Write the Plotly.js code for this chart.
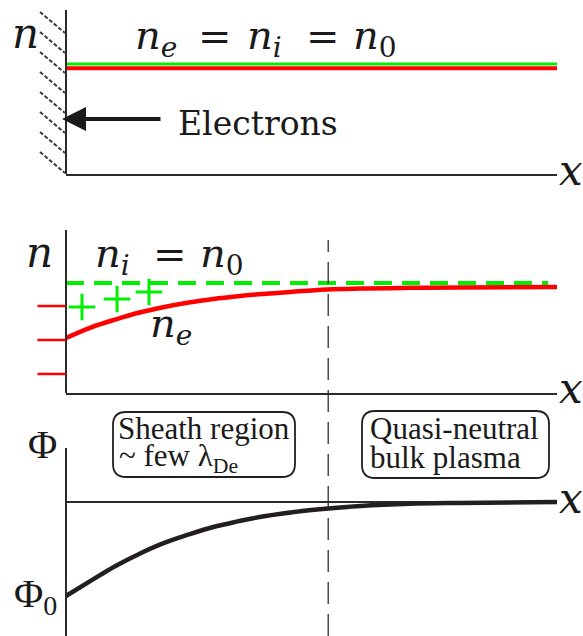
<!DOCTYPE html>
<html>
<head>
<meta charset="utf-8">
<script src="https://cdn.plot.ly/plotly-3.0.1.min.js"></script>
<style>html,body{margin:0;padding:0;background:#fff;}#plot{width:583px;height:636px;}</style>
</head>
<body>
<div id="plot"></div>
<script>
// ---------------- data ----------------
// panel 1: uniform plasma (n / n0 versus x)
const xUniform = [0, 10];
const niUniform = [1.0, 1.0];
const neUniform = [0.962, 0.962];

// panel 2: sheath densities
const xGrid = [0, 0.5, 1, 1.5, 2, 2.5, 3, 3.5, 4, 5, 6, 7, 8, 10];
const neSheath = [0.500, 0.595, 0.668, 0.732, 0.782, 0.823, 0.855, 0.880, 0.900, 0.933, 0.949, 0.956, 0.960, 0.964];
const xIon = [0, 9.82];
const niSheath = [1.0, 1.0];
const plusX = [0.326, 1.04, 1.69];
const plusY = [0.782, 0.855, 0.918];
const minusX = [0.78, 0.78, 0.78];
const minusY = [0.791, 0.482, 0.173];

// panel 3: potential
const phi = [-1.0, -0.840, -0.683, -0.550, -0.436, -0.346, -0.266, -0.207, -0.155, -0.086, -0.043, -0.019, -0.010, 0.0];
const sheathEdge = 5.34;

// ---------------- helpers ----------------
const W = 583, H = 636;
const px = v => v / W;
const py = v => 1 - v / H;
const SERIF = 'DejaVu Serif';
const TIMES = 'Liberation Serif';
const RED = '#ff0000', GREEN = '#00ee00', INK = '#231f20', AX = '#2b2b2b';

const xdom = [px(66), px(557)];
function xa(anchor, line) {
  return {domain: xdom, range: [0, 10], anchor: anchor, showline: line, linecolor: AX, linewidth: 2,
          showgrid: false, zeroline: false, showticklabels: false, ticks: ''};
}
function ya(dom, range, zl) {
  return {domain: dom, range: range, anchor: 'free', position: px(66), showline: true, linecolor: AX, linewidth: 2,
          showgrid: false, zeroline: !!zl, zerolinecolor: AX, zerolinewidth: 1.6,
          showticklabels: false, ticks: ''};
}

const traces = [
  {x: xUniform, y: niUniform, xaxis: 'x', yaxis: 'y', mode: 'lines', line: {color: GREEN, width: 3}},
  {x: xUniform, y: neUniform, xaxis: 'x', yaxis: 'y', mode: 'lines', line: {color: RED, width: 4}},
  {x: xIon, y: niSheath, xaxis: 'x2', yaxis: 'y2', mode: 'lines', line: {color: GREEN, width: 4, dash: '18px,10px'}},
  {x: xGrid, y: neSheath, xaxis: 'x2', yaxis: 'y2', mode: 'lines', line: {color: RED, width: 4.5, shape: 'spline'}},
  {x: plusX, y: plusY, xaxis: 'x2', yaxis: 'y2', mode: 'markers', cliponaxis: false,
   marker: {symbol: 'cross-thin', size: 19, color: GREEN, line: {color: GREEN, width: 3}}},
  {x: minusX, y: minusY, xaxis: 'x4', yaxis: 'y2', mode: 'markers', cliponaxis: false,
   marker: {symbol: 'line-ew', size: 20, color: RED, line: {color: RED, width: 2.5}}},
  {x: xGrid, y: phi, xaxis: 'x3', yaxis: 'y3', mode: 'lines', line: {color: INK, width: 4.5, shape: 'spline'}}
];

function ann(text, x, y, size, opts, fam) {
  return Object.assign({text: text, x: px(x), y: py(y), xref: 'paper', yref: 'paper', showarrow: false,
    xanchor: 'left', yanchor: 'middle', font: {family: fam || SERIF, size: size, color: '#1a1a1a'}}, opts || {});
}
const I = s => '<i>' + s + '</i>';

const annotations = [
  ann(I('n'), 25, 34, 42, {xanchor: 'center'}),
  ann(I('n') + '<sub>' + I('e') + '</sub>', 133, 38, 40),
  ann('=', 196, 36, 40),
  ann(I('n') + '<sub>' + I('i') + '</sub>', 245, 38, 40),
  ann('=', 304, 36, 40),
  ann(I('n') + '<sub>0</sub>', 351, 38, 40),
  ann('Electrons', 176, 124, 33),
  ann(I('x'), 571, 170, 42, {xanchor: 'center'}),
  ann(I('n'), 39, 252, 42, {xanchor: 'center'}),
  ann(I('n') + '<sub>' + I('i') + '</sub>', 93, 256, 40),
  ann('=', 151, 254, 40),
  ann(I('n') + '<sub>0</sub>', 198, 256, 40),
  ann(I('n') + '<sub>' + I('e') + '</sub>', 148, 326, 40),
  ann(I('x'), 571, 388, 42, {xanchor: 'center'}),
  ann('Φ', 42, 444, 40, {xanchor: 'center'}, TIMES),
  ann('Φ<sub>0</sub>', 12, 596, 40, {}, TIMES),
  ann(I('x'), 571, 498, 42, {xanchor: 'center'}),
  ann('Sheath region', 204, 428, 31, {xanchor: 'center'}, TIMES),
  ann('~ few λ<sub>De</sub>', 117, 458, 31, {}, TIMES),
  ann('Quasi-neutral', 455, 428, 31, {xanchor: 'center'}, TIMES),
  ann('bulk plasma', 368, 458, 31, {}, TIMES),
  {x: px(62), y: py(119), xref: 'paper', yref: 'paper', text: '', showarrow: true,
   ax: 100, ay: 0, axref: 'pixel', ayref: 'pixel', arrowhead: 2, arrowsize: 1.2, arrowwidth: 4, arrowcolor: '#1a1a1a', standoff: 0}
];

function roundBox(x0, y0, x1, y1, r) {
  const rx = r / W, ry = r / H;
  const X0 = px(x0), X1 = px(x1), Y0 = py(y0), Y1 = py(y1); // Y0 top, Y1 bottom
  return {type: 'path', xref: 'paper', yref: 'paper', line: {color: INK, width: 1.8},
    path: 'M ' + (X0 + rx) + ',' + Y0 + ' L ' + (X1 - rx) + ',' + Y0 + ' Q ' + X1 + ',' + Y0 + ' ' + X1 + ',' + (Y0 - ry) +
          ' L ' + X1 + ',' + (Y1 + ry) + ' Q ' + X1 + ',' + Y1 + ' ' + (X1 - rx) + ',' + Y1 +
          ' L ' + (X0 + rx) + ',' + Y1 + ' Q ' + X0 + ',' + Y1 + ' ' + X0 + ',' + (Y1 + ry) +
          ' L ' + X0 + ',' + (Y0 - ry) + ' Q ' + X0 + ',' + Y0 + ' ' + (X0 + rx) + ',' + Y0 + ' Z'};
}

const shapes = [
  {type: 'line', xref: 'x2', yref: 'paper', x0: sheathEdge, x1: sheathEdge, y0: 0, y1: py(240),
   line: {color: INK, width: 1.2, dash: '22px,10px'}},
  roundBox(113, 412, 295, 477, 13),
  roundBox(362, 411, 549, 478, 13)
];
for (let i = 0; i < 8; i++) {
  const t = 12 + i * 20;
  shapes.push({type: 'line', xref: 'paper', yref: 'paper', x0: px(40), y0: py(t), x1: px(65), y1: py(t + 21),
    line: {color: '#3a3a3a', width: 2, dash: '4px,2px'}});
}

const layout = {
  width: W, height: H, margin: {l: 0, r: 0, t: 0, b: 0}, showlegend: false,
  font: {family: SERIF},
  paper_bgcolor: '#fff', plot_bgcolor: 'rgba(0,0,0,0)',
  xaxis: xa('y', true), xaxis2: xa('y2', true), xaxis3: xa('y3', false),
  xaxis4: {domain: [0, px(66)], range: [0, 1], anchor: 'y2', visible: false, showgrid: false, zeroline: false},
  yaxis: ya([py(174), py(10)], [0, 1.491]),
  yaxis2: ya([py(393), py(230)], [0, 1.482]),
  yaxis3: ya([0, py(448)], [-1.426, 0.574], true),
  annotations: annotations, shapes: shapes
};

Plotly.newPlot('plot', traces, layout, {staticPlot: true, displayModeBar: false});
</script>
</body>
</html>
